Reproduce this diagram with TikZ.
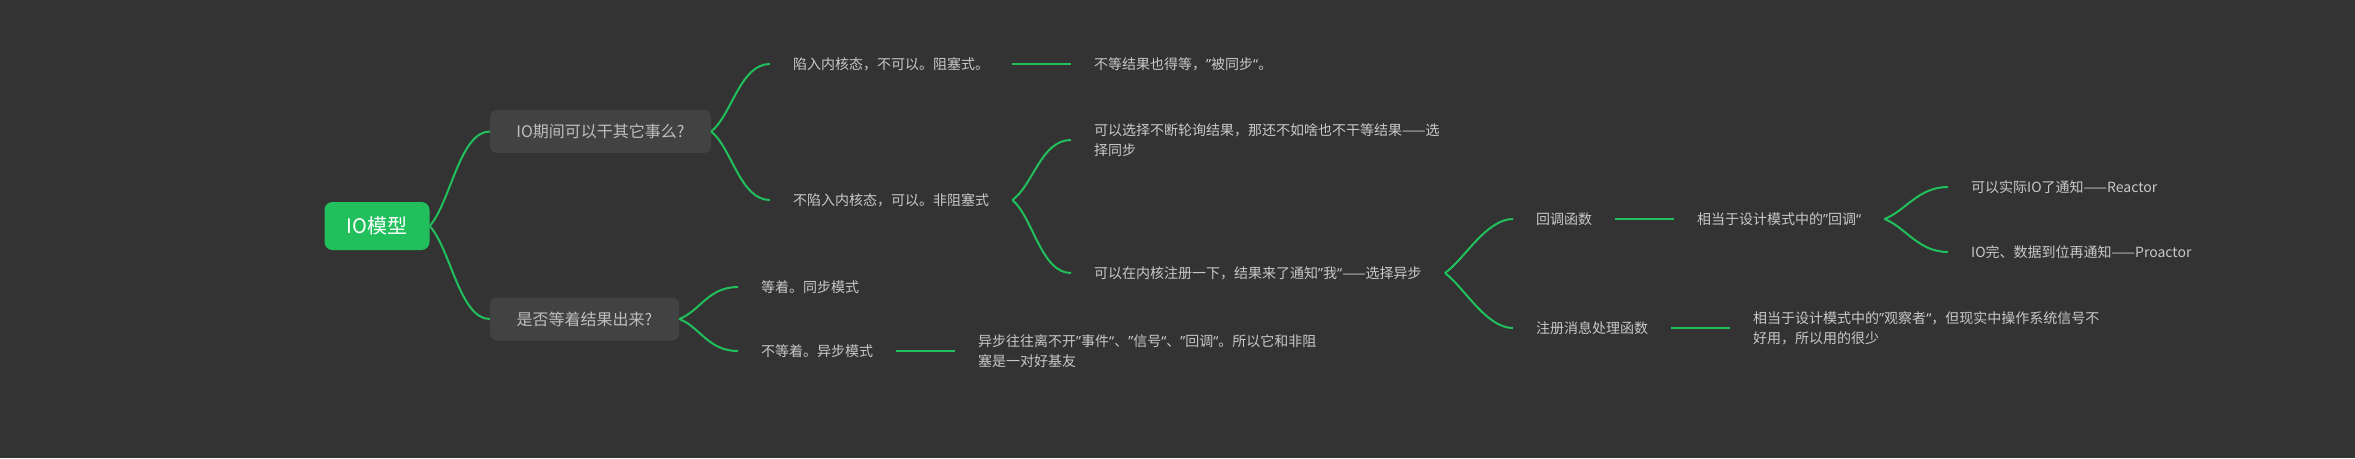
\documentclass[tikz,border=0pt]{standalone}
\usepackage{fontspec}
\setmainfont{Noto Sans CJK SC}
\newfontfamily\quotefont{Noto Sans}
\newcommand{\qopen}{{\quotefont “}}
\newcommand{\qclose}{{\quotefont ”}}
\definecolor{bgdark}{HTML}{333333}
\definecolor{topicgray}{HTML}{424242}
\definecolor{mapgreen}{HTML}{21C05C}
\definecolor{leafgray}{HTML}{C8C8C8}
\definecolor{topictext}{HTML}{BEBEBE}

\begin{document}
\begin{tikzpicture}[
  x=1pt, y=-1pt,
  root/.style={fill=mapgreen, text=white, rounded corners=8pt,
               minimum width=105pt, minimum height=48pt, inner sep=0pt,
               font=\fontsize{20}{24}\selectfont},
  topic/.style={fill=topicgray, text=topictext, rounded corners=7pt,
                minimum height=43pt, inner sep=0pt,
                font=\fontsize{16}{20}\selectfont},
  leaf/.style={text=leafgray, anchor=west, align=left,
               inner xsep=23pt, inner ysep=2pt,
               font=\fontsize{14}{20}\selectfont},
  link/.style={draw=mapgreen, line width=2pt}
]
\fill[bgdark] (0,0) rectangle (2355,458);
\useasboundingbox (0,0) rectangle (2355,458);

% Root and topics
\node[root] (root) at (377,226) {IO模型};
\node[topic, minimum width=221pt] (q1) at (600.5,131.5) {IO期间可以干其它事么?};
\node[topic, minimum width=189pt] (q2) at (584.5,319) {是否等着结果出来?};

% Leaves of the first topic
\node[leaf] (a1)  at (770,64)  {陷入内核态，不可以。阻塞式。};
\node[leaf] (a1r) at (1071,64) {不等结果也得等，\qclose 被同步\qopen 。};
\node[leaf] (a2)  at (770,200) {不陷入内核态，可以。非阻塞式};
\node[leaf] (a2a) at (1071,140) {可以选择不断轮询结果，那还不如啥也不干等结果——选\\择同步};
\node[leaf] (a2b) at (1071,273) {可以在内核注册一下，结果来了通知\qclose 我\qopen ——选择异步};
\node[leaf] (cb)   at (1513,219) {回调函数};
\node[leaf] (cbr)  at (1674,219) {相当于设计模式中的\qclose 回调\qopen};
\node[leaf] (re)   at (1948,187) {可以实际IO了通知——Reactor};
\node[leaf] (pro)  at (1948,252) {IO完、数据到位再通知——Proactor};
\node[leaf] (sig)  at (1513,328) {注册消息处理函数};
\node[leaf] (sigr) at (1730,328) {相当于设计模式中的\qclose 观察者\qopen ，但现实中操作系统信号不\\好用，所以用的很少};

% Leaves of the second topic
\node[leaf] (b1)  at (738,287) {等着。同步模式};
\node[leaf] (b2)  at (738,351) {不等着。异步模式};
\node[leaf] (b2r) at (955,351) {异步往往离不开\qclose 事件\qopen 、\qclose 信号\qopen 、\qclose 回调\qopen 。所以它和非阻\\塞是一对好基友};

% Links
\draw[link] (root.east) .. controls +(21,-24) and +(-30,0) .. (q1.west);
\draw[link] (root.east) .. controls +(21,23) and +(-30,0) .. (q2.west);
\draw[link] (q1.east) .. controls +(21,-17) and +(-30,0) .. (a1.west);
\draw[link] (q1.east) .. controls +(21,17) and +(-30,0) .. (a2.west);
\draw[link] (a2.east) .. controls +(21,-15) and +(-30,0) .. (a2a.west);
\draw[link] (a2.east) .. controls +(21,18) and +(-30,0) .. (a2b.west);
\draw[link] (a2b.east) .. controls +(19,-13) and +(-27,0) .. (cb.west);
\draw[link] (a2b.east) .. controls +(19,14) and +(-27,0) .. (sig.west);
\draw[link] (cbr.east) .. controls +(21,-8) and +(-30,0) .. (re.west);
\draw[link] (cbr.east) .. controls +(21,8) and +(-30,0) .. (pro.west);
\draw[link] (q2.east) .. controls +(21,-8) and +(-30,0) .. (b1.west);
\draw[link] (q2.east) .. controls +(21,8) and +(-30,0) .. (b2.west);

\draw[link] (a1.east) -- (a1r.west);
\draw[link] (cb.east) -- (cbr.west);
\draw[link] (sig.east) -- (sigr.west);
\draw[link] (b2.east) -- (b2r.west);
\end{tikzpicture}
\end{document}
